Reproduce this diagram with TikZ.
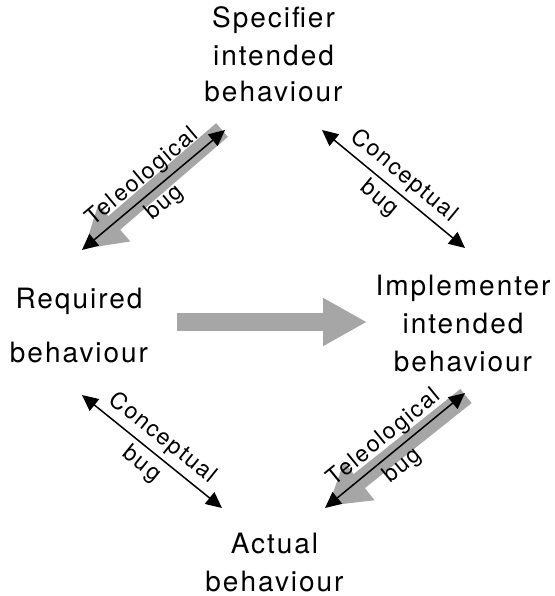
\documentclass[tikz,border=0pt]{standalone}
\usepackage{fontspec}
\usetikzlibrary{arrows.meta}
\newfontfamily\helvfont[LetterSpace=7]{TeX Gyre Heros}
\definecolor{arrowgray}{RGB}{166,166,166}
\begin{document}
\begin{tikzpicture}[x=1pt,y=-1pt,
  txt/.style={font=\helvfont\fontsize{28}{34}\selectfont, anchor=base, inner sep=0pt},
  lbl/.style={font=\helvfont\fontsize{23}{28}\selectfont, sloped, inner sep=0pt},
  bigarrow/.style={draw=arrowgray, line width=18pt, -{Triangle[length=44pt,width=45pt]}},
  diagarrow/.style={draw=arrowgray, line width=18pt, -{Triangle[length=40pt,width=46pt]}},
  bugline/.style={line width=1.5pt, {Triangle[length=16pt,width=15pt]}-{Triangle[length=16pt,width=15pt]}}]
\useasboundingbox (0,0) rectangle (554,596);

% texts
\node[txt] (spec1) at (273.5,28) {Specifier};
\node[txt] (spec2) at (273.5,66) {intended};
\node[txt] (spec3) at (273.5,102) {behaviour};
\node[txt] (req1) at (79,308) {Required};
\node[txt] (req2) at (79,362) {behaviour};
\node[txt] (impl1) at (463,295) {Implementer};
\node[txt] (impl2) at (463,333) {intended};
\node[txt] (impl3) at (463,371.5) {behaviour};
\node[txt] (act1) at (274.5,553) {Actual};
\node[txt] (act2) at (274.5,591) {behaviour};

% arrow end points
\coordinate (ha) at (177,322);
\coordinate (hb) at (367,322);
\coordinate (gtla) at (222,130);
\coordinate (gtlb) at (84,249);
\coordinate (gbra) at (466,396);
\coordinate (gbrb) at (328,506);
\coordinate (tla) at (82,250);
\coordinate (tlb) at (225,130);
\coordinate (tra) at (322,130);
\coordinate (trb) at (465,248);
\coordinate (bla) at (82,395);
\coordinate (blb) at (222,508);
\coordinate (bra) at (325,508);
\coordinate (brb) at (465,393);

% gray arrows
\draw[bigarrow] (ha) -- (hb);
\draw[diagarrow] (gtla) -- (gtlb);
\draw[diagarrow] (gbra) -- (gbrb);

% black double arrows with labels
\draw[bugline] (tla) -- (tlb)
  node[midway, lbl, above=5pt] (tlt) {Teleological}
  node[midway, lbl, below=5pt] (tlbug) {bug};
\draw[bugline] (tra) -- (trb)
  node[midway, lbl, above=5pt] (trt) {Conceptual}
  node[midway, lbl, below=5pt, xshift=-5pt] (trbug) {bug};
\draw[bugline] (bla) -- (blb)
  node[midway, lbl, above=5pt] (blt) {Conceptual}
  node[midway, lbl, below=5pt] (blbug) {bug};
\draw[bugline] (bra) -- (brb)
  node[midway, lbl, above=5pt] (brt) {Teleological}
  node[midway, lbl, below=5pt, xshift=-4pt] (brbug) {bug};
\end{tikzpicture}
\end{document}
